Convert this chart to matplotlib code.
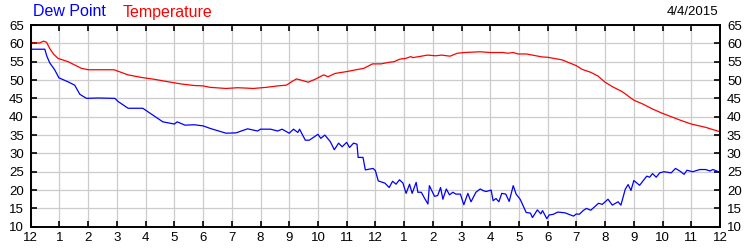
import matplotlib
matplotlib.use("Agg")
from matplotlib import pyplot as plt

plt.rcParams['font.family'] = ['Liberation Sans', 'DejaVu Sans']

# hours since midnight and readings
temp_hours = [0.0, 0.3, 0.45, 0.55, 0.66, 0.8, 0.95, 1.3, 1.76, 2.0, 2.9, 3.39, 3.86, 4.3, 4.8,
              5.26, 5.7, 6.0, 6.25, 6.8, 7.2, 7.5, 7.75, 8.2, 8.6, 8.9, 9.1, 9.25, 9.45, 9.66,
              9.9, 10.2, 10.35, 10.6, 11.0, 11.6, 11.9, 12.2, 12.45, 12.65, 12.85, 13.06, 13.24,
              13.3, 13.53, 13.82, 14.1, 14.3, 14.6, 14.85, 15.1, 15.65, 16.0, 16.45, 16.6, 16.8,
              16.97, 17.26, 17.6, 17.8, 18.0, 18.5, 19.0, 19.2, 19.5, 19.75, 20.0, 20.25, 20.6,
              21.0, 21.3, 21.65, 22.0, 22.6, 23.0, 23.5, 24.0]
temperature = [60.1, 60.1, 60.6, 60.3, 58.6, 57.0, 55.9, 55.0, 53.2, 52.8, 52.8, 51.4, 50.7, 50.2, 49.5,
               48.9, 48.5, 48.4, 48.0, 47.7, 47.9, 47.8, 47.7, 48.0, 48.4, 48.6, 49.6, 50.3, 49.9, 49.4,
               50.2, 51.4, 50.9, 51.8, 52.3, 53.2, 54.4, 54.4, 54.8, 55.0, 55.7, 55.9, 56.4,
               56.1, 56.4, 56.8, 56.6, 56.8, 56.5, 57.3, 57.5, 57.7, 57.5, 57.5, 57.3, 57.5,
               57.1, 57.1, 56.6, 56.3, 56.2, 55.5, 53.9, 52.9, 52.1, 51.1, 49.4, 48.2, 46.8,
               44.5, 43.5, 42.1, 40.9, 39.1, 38.0, 37.1, 35.9]

dew_hours = [0.0, 0.49, 0.56, 0.66, 0.84, 0.98, 1.3, 1.53, 1.71, 1.94, 2.35, 2.93, 3.05, 3.39, 3.9,
             4.2, 4.6, 5.0, 5.1, 5.37, 5.7, 6.0, 6.25, 6.8, 7.15, 7.55, 7.9, 8.0, 8.35, 8.6, 8.75,
             9.0, 9.15, 9.3, 9.36, 9.56, 9.7, 9.85, 10.0, 10.1, 10.24, 10.43, 10.57, 10.72, 10.84,
             11.0, 11.1, 11.24, 11.36, 11.4, 11.57, 11.65, 11.92, 12.0, 12.1, 12.33, 12.48, 12.6,
             12.72, 12.84, 12.96, 13.07, 13.19, 13.28, 13.42, 13.48, 13.6, 13.71, 13.83, 13.88,
             14.06, 14.17, 14.27, 14.35, 14.47, 14.58, 14.7, 14.8, 14.96, 15.08, 15.22, 15.33,
             15.5, 15.65, 15.77, 15.86, 16.03, 16.1, 16.2, 16.3, 16.4, 16.54, 16.66, 16.8, 16.9,
             17.04, 17.1, 17.25, 17.4, 17.47, 17.64, 17.76, 17.82, 17.97, 18.05, 18.2, 18.35,
             18.6, 18.9, 19.0, 19.1, 19.25, 19.35, 19.5, 19.77, 19.9, 20.1, 20.25, 20.45, 20.55,
             20.7, 20.8, 20.9, 21.0, 21.2, 21.45, 21.55, 21.65, 21.78, 21.9, 22.05, 22.3, 22.45,
             22.6, 22.75, 22.85, 23.05, 23.3, 23.5, 23.65, 23.75, 23.95, 24.0]
dew_point = [58.4, 58.4, 56.5, 54.7, 52.7, 50.6, 49.5, 48.6, 46.1, 45.0, 45.1, 45.0, 44.1, 42.3, 42.3,
             40.7, 38.6, 38.0, 38.6, 37.7, 37.8, 37.5, 36.8, 35.5, 35.6, 36.7, 36.1, 36.6, 36.6, 36.1, 36.6,
             35.5, 36.6, 35.7, 36.6, 33.6, 33.6, 34.4, 35.2, 34.1, 35.0, 33.2, 31.0, 32.8, 31.8,
             33.0, 31.6, 32.8, 32.5, 28.9, 28.9, 25.5, 25.9, 25.3, 22.5, 21.9, 20.7, 22.4,
             21.6, 22.8, 21.9, 19.1, 21.6, 19.1, 22.1, 19.4, 19.4, 17.8, 16.2, 21.2,
             18.3, 18.5, 20.7, 17.5, 20.3, 18.7, 19.4, 18.9, 18.9, 16.0, 19.1, 16.8,
             19.4, 20.3, 19.8, 19.6, 20.0, 17.1, 17.7, 16.8, 19.1, 18.9, 16.9, 21.2, 18.9,
             17.5, 16.5, 13.9, 13.7, 12.5, 14.6, 13.5, 14.4, 12.2, 13.2, 13.4, 14.0,
             13.8, 12.9, 13.5, 13.4, 14.5, 15.0, 14.5, 16.4, 16.1, 17.5, 15.9, 16.8, 15.9,
             20.2, 21.5, 19.9, 22.6, 21.3, 23.8, 23.5, 24.5, 23.5, 24.7, 25.0, 24.7, 25.9,
             25.2, 24.3, 25.4, 25.0, 25.6, 25.6, 25.2, 25.6, 25.0, 25.0]

hour_labels = ['12', '1', '2', '3', '4', '5', '6', '7', '8', '9', '10', '11',
               '12', '1', '2', '3', '4', '5', '6', '7', '8', '9', '10', '11', '12']
y_ticks = [10, 15, 20, 25, 30, 35, 40, 45, 50, 55, 60, 65]
date_text = '4/4/2015'

fig = plt.figure(figsize=(7.5, 2.5), dpi=100)
ax = fig.add_axes([0.041, 0.093, 0.919, 0.807])

ax.plot(temp_hours, temperature, color='#ff0000', lw=0.9)
ax.plot(dew_hours, dew_point, color='#0000ff', lw=0.9)

ax.set_xlim(0, 24)
ax.set_ylim(10, 65)
ax.set_xticks(range(25))
ax.set_xticklabels(hour_labels)
ax.set_yticks(y_ticks)

# gridlines and boxed axes, ticks pointing inwards on all four sides
ax.grid(True, color='#cccccc', lw=0.9)
ax.set_axisbelow(True)
for side in ax.spines.values():
    side.set_linewidth(1.4)
    side.set_color('black')
ax.tick_params(axis='both', direction='in', length=4, width=1.2, labelsize=9.5,
               top=True, right=True, labelright=True)
ax.tick_params(axis='x', pad=4)
ax.tick_params(axis='y', pad=5)

# series names as coloured text above the plot
fig.text(33 / 750, 1 - 12 / 250, 'Dew Point', color='#0000ff', fontsize=11.5, va='center', ha='left')
fig.text(123 / 750, 1 - 12 / 250, 'Temperature', color='#ff0000', fontsize=11.5, va='center', ha='left')
fig.text(718 / 750, 1 - 12 / 250, date_text, color='black', fontsize=9.5, va='center', ha='right')

fig.savefig('out.png', dpi=100)
